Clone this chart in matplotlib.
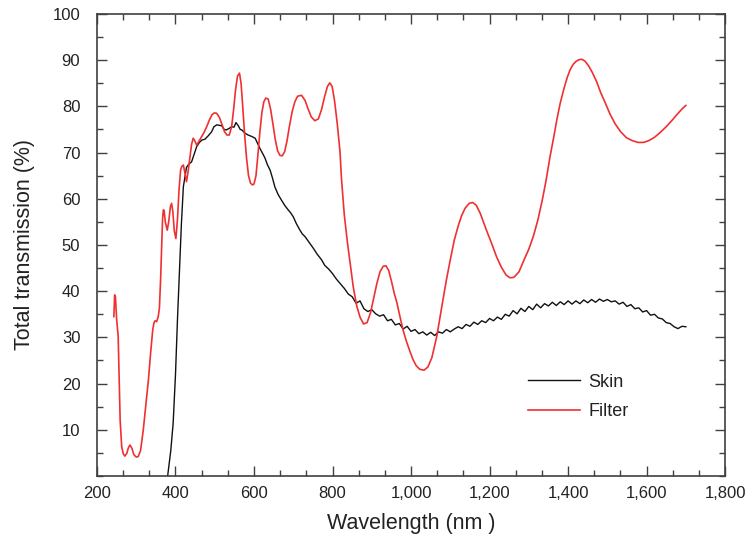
import matplotlib
matplotlib.use("Agg")
import matplotlib.pyplot as plt
from matplotlib.ticker import AutoMinorLocator, FuncFormatter

plt.rcParams['font.family'] = ['Liberation Sans', 'DejaVu Sans']

# Skin transmission spectrum (wavelength in nm, transmission in %)
skin_wl = [380, 388, 394, 400, 405, 410, 415, 420, 428, 434, 441, 448, 454, 461, 467,
           475, 483, 492, 498, 505, 512, 518, 524, 529, 536, 543, 549, 554, 560, 565,
           569, 577, 585, 594, 603, 609, 615, 622, 628, 634, 641, 647, 653, 661, 670,
           678, 687, 693, 700, 708, 717, 723, 730, 740, 751, 761, 772, 780, 790, 800,
           810, 820, 830, 840, 850, 860, 870, 880, 890, 900, 910, 920, 930, 940, 950,
           960, 970, 980, 990, 1000, 1010, 1020, 1030, 1040, 1050, 1060, 1070, 1080,
           1090, 1100, 1110, 1120, 1130, 1140, 1150, 1160, 1170, 1180, 1190, 1200,
           1210, 1220, 1230, 1240, 1250, 1260, 1270, 1280, 1290, 1300, 1310, 1320,
           1330, 1340, 1350, 1360, 1370, 1380, 1390, 1400, 1410, 1420, 1430, 1440,
           1450, 1460, 1470, 1480, 1490, 1500, 1510, 1520, 1530, 1540, 1550, 1560,
           1570, 1580, 1590, 1600, 1610, 1620, 1630, 1640, 1650, 1660, 1670, 1680,
           1690, 1700]
skin_t = [0.0, 5.5, 11.4, 22.0, 33.8, 44.0, 54.5, 62.6, 66.8, 67.5, 68.0, 69.8, 71.3, 72.2, 72.7,
          72.9, 73.6, 74.5, 75.6, 76.0, 75.9, 75.8, 75.0, 74.9, 75.2, 75.6, 75.5, 76.5, 75.8, 75.0,
          74.9, 74.2, 73.8, 73.5, 73.1, 72.0, 70.9, 69.8, 68.8, 67.4, 66.2, 64.5, 62.6, 61.0, 59.7,
          58.6, 57.6, 57.0, 56.1, 54.6, 53.2, 52.4, 51.8, 50.6, 49.3, 48.0, 46.8, 45.6, 44.8, 43.8,
          42.6, 41.6, 40.6, 39.4, 38.8, 37.4, 37.9, 36.2, 35.6, 36.0, 35.1, 34.6, 34.9, 33.6, 33.9,
          32.7, 33.0, 31.8, 32.4, 31.3, 31.7, 30.8, 31.2, 30.5, 31.1, 30.4, 31.2, 30.9, 31.7,
          31.2, 31.8, 32.3, 31.9, 32.8, 32.4, 33.3, 32.8, 33.6, 33.2, 34.1,
          33.6, 34.4, 33.9, 35.0, 34.6, 35.8, 35.1, 36.3, 35.6, 36.7, 36.0, 37.2,
          36.4, 37.3, 36.8, 37.6, 36.9, 37.7, 37.1, 37.9, 37.2, 37.9, 37.3, 38.1,
          37.5, 38.2, 37.6, 38.3, 37.8, 38.2, 37.7, 37.9, 37.2, 37.6, 36.7, 37.1,
          36.2, 36.4, 35.5, 35.8, 34.8, 35.0, 34.2, 34.0, 33.2, 33.0, 32.3, 31.9,
          32.4, 32.3]

# Filter transmission spectrum (wavelength in nm, transmission in %)
filter_wl = [243, 245, 247, 250, 254, 259, 263, 267, 271, 276, 280, 284, 289, 294, 300,
             305, 311, 318, 324, 331, 337, 342, 345, 348, 352, 356, 359, 362, 365, 367,
             369, 371, 374, 379, 383, 387, 390, 393, 397, 401, 405, 409, 413, 416, 420,
             424, 428, 432, 437, 441, 445, 449, 454, 460, 467, 473, 479, 486, 493, 499,
             505, 512, 519, 525, 531, 537, 543, 548, 553, 558, 563, 567, 571, 576, 581,
             586, 591, 596, 600, 605, 610, 615, 620, 625, 630, 636, 642, 648, 654, 660,
             666, 672, 678, 684, 690, 697, 704, 711, 721, 730, 738, 746, 755, 764, 772,
             780, 787, 793, 799, 805, 812, 819, 823, 830, 838, 845, 853, 862, 870, 879,
             888, 897, 905, 913, 921, 929, 936, 943, 950, 957, 964, 972, 980, 988, 997,
             1005, 1013, 1022, 1033, 1043, 1053, 1066, 1078, 1090, 1099, 1110, 1120,
             1129, 1138, 1148, 1157, 1166, 1176, 1185, 1193, 1205, 1218, 1230, 1242,
             1252, 1262, 1275, 1288, 1300, 1312, 1323, 1334, 1344, 1354, 1364, 1372,
             1380, 1390, 1398, 1405, 1413, 1421, 1428, 1435, 1443, 1452, 1462, 1473,
             1483, 1495, 1507, 1520, 1534, 1549, 1563, 1578, 1592, 1606, 1620, 1634,
             1650, 1665, 1680, 1692, 1700]
filter_t = [34.5, 39.2, 38.8, 34.0, 30.2, 12.1, 6.3, 4.8, 4.3, 4.9, 6.1, 6.7, 6.0, 4.6, 4.1,
            4.2, 5.5, 10.0, 15.0, 20.8, 27.0, 31.6, 33.1, 33.6, 33.4, 34.5, 36.3, 42.4, 50.0, 55.5,
            57.6, 57.5, 55.0, 53.2, 55.2, 58.3, 59.0, 57.4, 53.0, 51.4, 55.5, 62.0, 66.2, 67.0, 67.3,
            65.6, 63.7, 65.8, 69.1, 71.8, 73.1, 72.6, 71.6, 72.5, 73.5, 74.4, 75.5, 77.0, 78.2, 78.6,
            78.5, 77.6, 75.9, 74.5, 73.8, 73.8, 75.6, 79.3, 83.6, 86.6, 87.2, 85.0, 80.3, 74.0, 68.8,
            65.0, 63.4, 63.0, 63.2, 65.0, 69.6, 74.5, 78.6, 81.0, 81.8, 81.6, 79.5, 76.3, 72.9, 70.4,
            69.4, 69.3, 70.2, 72.5, 75.6, 78.8, 81.0, 82.2, 82.4, 81.3, 79.4, 77.7, 76.9, 77.3, 79.3,
            82.2, 84.3, 85.1, 84.3, 81.3, 76.3, 70.2, 64.1, 56.5, 50.5, 46.0, 40.8, 36.7, 34.4, 32.9,
            33.2, 35.4, 38.6, 41.7, 44.2, 45.4, 45.5, 44.5, 42.2, 39.6, 37.5, 34.4, 31.5, 29.2, 27.0,
            25.2, 23.9, 23.1, 22.9, 23.6, 25.6, 30.4, 36.5, 42.4, 46.4, 51.0, 54.1,
            56.4, 58.0, 59.0, 59.2, 58.6, 56.9, 54.8, 53.0, 50.4, 47.4, 45.2, 43.5,
            42.9, 43.0, 44.2, 46.8, 49.1, 52.0, 55.4, 59.6, 64.0, 69.1, 73.6, 77.4,
            80.7, 84.0, 86.3, 87.9, 89.1, 89.8, 90.1, 90.2, 89.8, 88.8, 87.3, 85.3,
            83.0, 80.7, 78.3, 76.2, 74.5, 73.2, 72.6, 72.2, 72.2, 72.6, 73.3, 74.3,
            75.6, 77.0, 78.5, 79.6, 80.2]

x_ticks = [200, 400, 600, 800, 1000, 1200, 1400, 1600, 1800]
y_ticks = [10, 20, 30, 40, 50, 60, 70, 80, 90, 100]

fig = plt.figure(figsize=(7.46, 5.42), dpi=100)
ax = fig.add_axes([0.130, 0.1218, 0.842, 0.8524])

ax.plot(skin_wl, skin_t, color='#111111', lw=1.0, label='Skin')
ax.plot(filter_wl, filter_t, color='#f03030', lw=1.2, label='Filter')

ax.set_xlim(200, 1800)
ax.set_ylim(0, 100)
ax.set_xticks(x_ticks)
ax.set_yticks(y_ticks)
ax.xaxis.set_minor_locator(AutoMinorLocator(3))
ax.yaxis.set_minor_locator(AutoMinorLocator(2))
ax.xaxis.set_major_formatter(FuncFormatter(lambda v, p: f"{int(v):,}"))

txt_color = '#222222'
ax.tick_params(which='both', direction='in', top=True, right=True,
               colors='#404040', labelcolor=txt_color)
ax.tick_params(axis='x', which='major', length=7, width=1.0, labelsize=12, pad=7)
ax.tick_params(axis='y', which='major', length=7, width=1.0, labelsize=12, pad=12)
ax.tick_params(which='minor', length=4, width=1.0)

for s in ax.spines.values():
    s.set_color('#404040')
    s.set_linewidth(1.2)

ax.set_xlabel('Wavelength (nm )', fontsize=15.5, color=txt_color, labelpad=9)
ax.set_ylabel('Total transmission (%)', fontsize=15.5, color=txt_color, labelpad=13)

leg = ax.legend(loc='center left', bbox_to_anchor=(0.686, 0.171), frameon=False,
                fontsize=13, handlelength=2.9, handletextpad=0.45,
                labelspacing=0.7, borderpad=0, borderaxespad=0)
for t in leg.get_texts():
    t.set_color(txt_color)

fig.savefig('out.png', dpi=100)
